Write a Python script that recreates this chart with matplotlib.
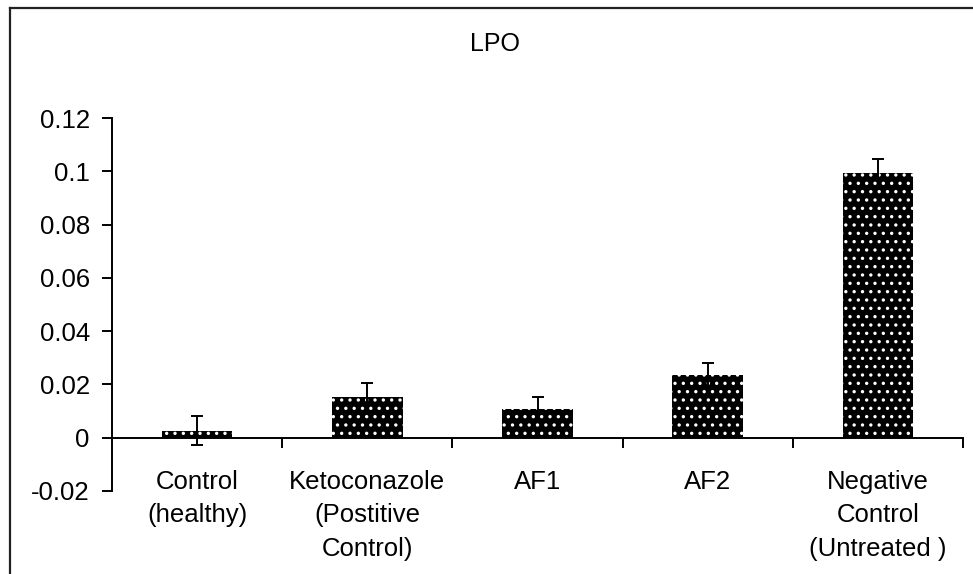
import numpy as np
import matplotlib
matplotlib.use('Agg')
import matplotlib.pyplot as plt
from matplotlib.lines import Line2D

# Dados
categorias = ['Control\n(healthy)', 'Ketoconazole\n(Postitive\nControl)', 'AF1', 'AF2',
              'Negative\nControl\n(Untreated )']
valores = [0.0027, 0.0153, 0.0106, 0.0237, 0.0993]
erros = [0.0053, 0.0054, 0.0046, 0.0044, 0.0053]
y_ticks = [-0.02, 0, 0.02, 0.04, 0.06, 0.08, 0.1, 0.12]
y_labels = ['-0.02', '0', '0.02', '0.04', '0.06', '0.08', '0.1', '0.12']

plt.rcParams['font.family'] = ['Liberation Sans', 'DejaVu Sans']
plt.rcParams['hatch.linewidth'] = 1.2

fig = plt.figure(figsize=(9.73, 5.74), dpi=100)
ax = fig.add_axes([112 / 973, 1 - 491 / 574, (963 - 112) / 973, (491 - 118) / 574])

x = np.arange(len(categorias))

# Barras pretas com pontos brancos
ax.bar(x, valores, width=0.415, color='black', edgecolor='white', hatch='..', linewidth=0, zorder=2)
ax.errorbar(x, valores, yerr=erros, fmt='none', ecolor='black', elinewidth=1.4,
            capsize=4.5, capthick=1.4, zorder=3)

ax.set_xlim(-0.5, len(categorias) - 0.5)
ax.set_ylim(-0.02, 0.12)

# Eixos no estilo Excel
for s in ['top', 'right']:
    ax.spines[s].set_visible(False)
ax.spines['bottom'].set_position(('data', 0))
ax.spines['bottom'].set_linewidth(1.4)
ax.spines['left'].set_linewidth(1.4)

ax.set_yticks(y_ticks)
ax.set_yticklabels(y_labels)
ax.tick_params(axis='y', direction='out', length=7, width=1.4, pad=9, labelsize=18.5)

ax.set_xticks(x)
ax.set_xticklabels(categorias, linespacing=1.5)
ax.set_xticks(np.arange(len(categorias)) + 0.5, minor=True)
ax.tick_params(axis='x', which='major', length=0, pad=23, labelsize=18.5)
ax.tick_params(axis='x', which='minor', direction='out', length=7, width=1.4)
for lbl in ax.get_xticklabels():
    lbl.set_verticalalignment('top')

# Título
fig.text(495 / 973, 1 - 44 / 574, 'LPO', ha='center', va='center', fontsize=18)

# Moldura do gráfico (cortada na imagem original)
fig.add_artist(Line2D([10 / 973, 10 / 973], [0, 1 - 8 / 574], color='#222222', lw=1.6))
fig.add_artist(Line2D([10 / 973, 1], [1 - 8 / 574, 1 - 8 / 574], color='#222222', lw=1.6))

fig.savefig('out.png', dpi=100)
